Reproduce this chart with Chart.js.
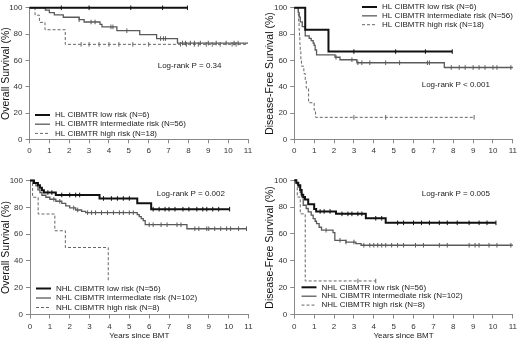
<!DOCTYPE html>
<html>
<head>
<meta charset="utf-8">
<script src="https://cdn.jsdelivr.net/npm/chart.js@4.4.1/dist/chart.umd.min.js"></script>
<style>
    html, body { margin: 0; padding: 0; background: #fff; }
    #wrap { position: relative; width: 520px; height: 347px; }
    #wrap canvas { position: absolute; left: 0; top: 0; }
</style>
</head>
<body>
<div id="wrap"></div>
<script>
// x ticks (years) and y ticks (%)
const xTicks = [0, 1, 2, 3, 4, 5, 6, 7, 8, 9, 10, 11];
const yTicks = [0, 20, 40, 60, 80, 100];

const hlLabels = ['HL CIBMTR low risk (N=6)', 'HL CIBMTR intermediate risk (N=56)', 'HL CIBMTR high risk (N=18)'];
const nhlLabels = ['NHL CIBMTR low risk (N=56)', 'NHL CIBMTR intermediate risk (N=102)', 'NHL CIBMTR high risk (N=8)'];

// HL overall survival
const hlOsLowT = [0, 7.95];
const hlOsLowS = [100, 100];
const hlOsLowCens = [1.6, 3.0, 5.1, 6.7, 7.95];
const hlOsIntT = [0, 0.8, 1.0, 1.25, 1.7, 2.5, 2.75, 3.55, 3.65, 4.4, 5.55, 6.4, 7.45, 11];
const hlOsIntS = [100, 98.2, 96.4, 94.6, 92.8, 91, 89.2, 87.4, 85.5, 82.6, 79.6, 76.6, 73.2, 73.2];
const hlOsIntCens = [2.5, 3.1, 3.3, 4.1, 4.2, 4.9, 6.6, 6.75, 6.85, 7.7, 7.85, 8.1, 8.3, 8.6, 9.0, 9.4, 9.9, 10.3, 10.5];
const hlOsHighT = [0, 0.28, 0.5, 0.78, 1.8, 10.95];
const hlOsHighS = [100, 94.4, 88.9, 83.3, 72.2, 72.2];
const hlOsHighCens = [2.6, 3.0, 3.5, 4.0, 4.5, 5.2, 6.0, 7.6, 7.9, 8.3, 8.5, 8.9, 9.2, 9.6, 10.2, 10.4];

// HL disease-free survival
const hlDfsLowT = [0, 0.55, 1.72, 7.95];
const hlDfsLowS = [100, 83.3, 66.7, 66.7];
const hlDfsLowCens = [3.0, 5.1, 6.6, 7.95];
const hlDfsIntT = [0, 0.2, 0.25, 0.3, 0.4, 0.55, 0.75, 0.85, 0.95, 1.0, 1.05, 1.12, 2.05, 2.3, 3.15, 7.55, 11];
const hlDfsIntS = [100, 96.4, 92.9, 89.3, 85.7, 78.6, 76.8, 75, 73.2, 71.4, 67.9, 64.2, 62.4, 60.5, 58.2, 54.6, 54.6];
const hlDfsIntCens = [2.1, 2.9, 3.2, 3.4, 3.8, 4.6, 5.3, 6.7, 6.8, 7.9, 8.3, 8.6, 9.0, 9.3, 9.6, 10.0, 10.2, 10.9];
const hlDfsHighT = [0, 0.2, 0.22, 0.24, 0.26, 0.28, 0.3, 0.33, 0.36, 0.48, 0.55, 0.6, 0.72, 1.0, 1.07, 9.05];
const hlDfsHighS = [100, 94.4, 88.9, 83.3, 77.8, 72.2, 66.7, 61.1, 55.6, 50, 44.4, 38.9, 27.8, 22.2, 16.7, 16.7];
const hlDfsHighCens = [3.0, 4.6, 9.05];

// NHL overall survival
const nhlOsLowT = [0, 0.2, 0.4, 0.5, 0.6, 0.7, 1.3, 3.5, 5.4, 6.1, 10.05];
const nhlOsLowS = [100, 98.2, 96.4, 94.6, 92.8, 91, 89.2, 86.6, 83, 78.6, 78.6];
const nhlOsLowCens = [0.9, 1.1, 1.6, 2.0, 2.3, 2.5, 3.7, 4.1, 4.4, 4.7, 5.0, 6.2, 6.5, 6.8, 7.0, 7.3, 7.7, 8.0, 8.4, 8.7, 8.9, 9.2, 9.5, 10.05];
const nhlOsIntT = [0, 0.15, 0.3, 0.4, 0.5, 0.6, 0.8, 1.0, 1.3, 1.6, 1.8, 2.0, 2.3, 2.6, 2.8, 5.4, 5.5, 5.6, 5.7, 5.8, 7.9, 10.9];
const nhlOsIntS = [100, 98, 96, 93, 91, 89, 87.5, 86, 84.5, 83, 81, 79.5, 78, 77, 76, 74.5, 73, 71.5, 70, 67, 64, 64];
const nhlOsIntCens = [1.2, 1.5, 2.2, 2.4, 2.9, 3.1, 3.3, 3.6, 3.9, 4.2, 4.5, 4.7, 5.0, 5.2, 6.0, 6.2, 6.6, 6.9, 7.4, 7.6, 8.3, 8.5, 8.9, 9.0, 9.3, 9.6, 9.9, 10.1, 10.5, 10.9];
const nhlOsHighT = [0, 0.13, 0.41, 1.25, 1.78, 3.94];
const nhlOsHighS = [100, 87.5, 75, 62.5, 50, 25];
const nhlOsHighCens = [];

// NHL disease-free survival
const nhlDfsLowT = [0, 0.1, 0.2, 0.3, 0.37, 0.45, 0.54, 0.7, 1.0, 1.1, 2.1, 3.6, 4.6, 10.15];
const nhlDfsLowS = [100, 98.2, 96.4, 92.8, 89.2, 87.5, 85.7, 82.1, 78.6, 76.8, 75, 71.7, 68.3, 68.3];
const nhlDfsLowCens = [1.3, 1.5, 1.8, 2.4, 2.7, 2.9, 3.2, 3.4, 4.1, 4.4, 5.2, 5.5, 6.0, 6.4, 6.8, 7.3, 7.7, 8.2, 8.8, 9.3, 9.7, 10.15];
const nhlDfsIntT = [0, 0.1, 0.2, 0.3, 0.37, 0.45, 0.6, 0.7, 0.85, 0.95, 1.05, 1.12, 1.25, 1.37, 1.95, 2.04, 2.6, 3.1, 3.36, 11];
const nhlDfsIntS = [100, 98, 95, 91, 87.6, 81.4, 79, 76.5, 74, 71.5, 69.5, 67.7, 65, 62.8, 61, 55.3, 54, 52.8, 51.6, 51.6];
const nhlDfsIntCens = [1.6, 2.3, 2.6, 3.0, 3.5, 3.8, 4.0, 4.2, 4.4, 4.6, 4.9, 5.2, 5.5, 6.1, 6.5, 7.3, 7.7, 8.8, 9.1, 9.3, 9.8, 10.2, 10.9];
const nhlDfsHighT = [0, 0.15, 0.3, 0.55, 4.1];
const nhlDfsHighS = [100, 87.5, 75, 25, 25];
const nhlDfsHighCens = [3.2, 4.1];

const FONT = '"Liberation Sans", Arial, sans-serif';
const styles = [
    { color: '#111', width: 2, dash: [] },
    { color: '#5a5a5a', width: 1.3, dash: [] },
    { color: '#666', width: 1, dash: [3, 2] },
];
const axisColor = '#888';
const Y_W = 29;

// KM curve level at time t (for placing censor ticks on the curve)
function stepValue(t, T, S) {
    let v = S[0];
    for (let i = 0; i < T.length; i++) if (T[i] <= t) v = S[i];
    return v;
}

const overlay = {
    id: 'overlay',
    afterDraw(chart, args, o) {
        const ctx = chart.ctx;
        ctx.save();
        ctx.font = '8px ' + FONT;
        ctx.fillStyle = '#222';
        ctx.textBaseline = 'middle';
        o.labels.forEach((lab, i) => {
            const y = o.ly + i * o.dy;
            const st = styles[i];
            ctx.strokeStyle = st.color;
            ctx.lineWidth = st.width;
            ctx.setLineDash(st.dash);
            ctx.beginPath();
            ctx.moveTo(o.lx, y);
            ctx.lineTo(o.lx + 15, y);
            ctx.stroke();
            ctx.setLineDash([]);
            ctx.fillText(lab, o.lx + 20, y);
        });
        ctx.fillText(o.pText, o.px, o.py);
        ctx.restore();
    },
};

function makePanel(p) {
    const cv = document.createElement('canvas');
    cv.width = 520;
    cv.height = 347;
    document.getElementById('wrap').appendChild(cv);

    const datasets = [];
    p.curves.forEach((c, i) => {
        const st = styles[i];
        datasets.push({
            data: c.t.map((x, k) => ({ x: x, y: c.s[k] })),
            stepped: true,
            borderColor: st.color,
            borderWidth: st.width,
            borderDash: st.dash,
            pointRadius: 0,
            fill: false,
            clip: 5,
        });
        datasets.push({
            data: c.cens.map((x) => ({ x: x, y: stepValue(x, c.t, c.s) })),
            showLine: false,
            pointStyle: 'line',
            rotation: 90,
            pointRadius: 2.3,
            borderColor: st.color,
            borderWidth: 1,
            clip: 5,
        });
    });

    const xH = p.xTitle ? 25.8 : 20;
    const padBottom = p.xTitle ? 6.7 : 347 - p.b - xH;

    new Chart(cv.getContext('2d'), {
        type: 'line',
        data: { datasets: datasets },
        plugins: [overlay],
        options: {
            responsive: false,
            animation: false,
            devicePixelRatio: 1,
            layout: {
                padding: { left: p.l - Y_W, top: p.t, right: 520 - p.r, bottom: padBottom },
            },
            scales: {
                x: {
                    type: 'linear',
                    min: 0,
                    max: 11,
                    afterFit: (s) => { s.height = p.xTitle ? p.bottomEdge - p.b : xH; },
                    afterBuildTicks: (s) => { s.ticks = xTicks.map((v) => ({ value: v })); },
                    ticks: { color: '#333', font: { size: 8, family: FONT }, padding: 3, maxRotation: 0 },
                    grid: { drawOnChartArea: false, drawTicks: true, tickLength: 4, color: axisColor },
                    border: { color: axisColor, width: 1 },
                    title: {
                        display: !!p.xTitle,
                        text: 'Years since BMT',
                        color: '#222',
                        font: { size: 8, family: FONT, lineHeight: 1.2 },
                        padding: 0,
                    },
                },
                y: {
                    min: 0,
                    max: 100,
                    afterFit: (s) => { s.width = Y_W; },
                    afterBuildTicks: (s) => { s.ticks = yTicks.map((v) => ({ value: v })); },
                    ticks: { color: '#333', font: { size: 8, family: FONT }, padding: 3 },
                    grid: { drawOnChartArea: false, drawTicks: true, tickLength: 4, color: axisColor },
                    border: { color: axisColor, width: 1 },
                    title: {
                        display: true,
                        text: p.yTitle,
                        color: '#111',
                        font: { size: 10.5, family: FONT, lineHeight: 1 },
                        padding: 0,
                    },
                },
            },
            plugins: {
                legend: { display: false },
                tooltip: { enabled: false },
                overlay: p.overlay,
            },
        },
    });
}

makePanel({
    l: 29.5, r: 248, t: 5.5, b: 139.3,
    yTitle: 'Overall Survival (%)',
    curves: [
        { t: hlOsLowT, s: hlOsLowS, cens: hlOsLowCens },
        { t: hlOsIntT, s: hlOsIntS, cens: hlOsIntCens },
        { t: hlOsHighT, s: hlOsHighS, cens: hlOsHighCens },
    ],
    overlay: { labels: hlLabels, lx: 35, ly: 115, dy: 9.2, pText: 'Log-rank P = 0.34', px: 157.7, py: 65.7 },
});

makePanel({
    l: 294.3, r: 514, t: 5, b: 139.3,
    yTitle: 'Disease-Free Survival (%)',
    curves: [
        { t: hlDfsLowT, s: hlDfsLowS, cens: hlDfsLowCens },
        { t: hlDfsIntT, s: hlDfsIntS, cens: hlDfsIntCens },
        { t: hlDfsHighT, s: hlDfsHighS, cens: hlDfsHighCens },
    ],
    overlay: { labels: hlLabels, lx: 362, ly: 7, dy: 8.85, pText: 'Log-rank P < 0.001', px: 421.7, py: 85 },
});

makePanel({
    l: 30, r: 248.5, t: 180.5, b: 314.5, xTitle: true, bottomEdge: 340.3,
    yTitle: 'Overall Survival (%)',
    curves: [
        { t: nhlOsLowT, s: nhlOsLowS, cens: nhlOsLowCens },
        { t: nhlOsIntT, s: nhlOsIntS, cens: nhlOsIntCens },
        { t: nhlOsHighT, s: nhlOsHighS, cens: nhlOsHighCens },
    ],
    overlay: { labels: nhlLabels, lx: 36, ly: 288.5, dy: 9.5, pText: 'Log-rank P = 0.002', px: 156.7, py: 194 },
});

makePanel({
    l: 294.3, r: 514, t: 180.3, b: 314.5, xTitle: true, bottomEdge: 340.3,
    yTitle: 'Disease-Free Survival (%)',
    curves: [
        { t: nhlDfsLowT, s: nhlDfsLowS, cens: nhlDfsLowCens },
        { t: nhlDfsIntT, s: nhlDfsIntS, cens: nhlDfsIntCens },
        { t: nhlDfsHighT, s: nhlDfsHighS, cens: nhlDfsHighCens },
    ],
    overlay: { labels: nhlLabels, lx: 301.5, ly: 287.3, dy: 8.9, pText: 'Log-rank P = 0.005', px: 421.7, py: 194 },
});
</script>
</body>
</html>
